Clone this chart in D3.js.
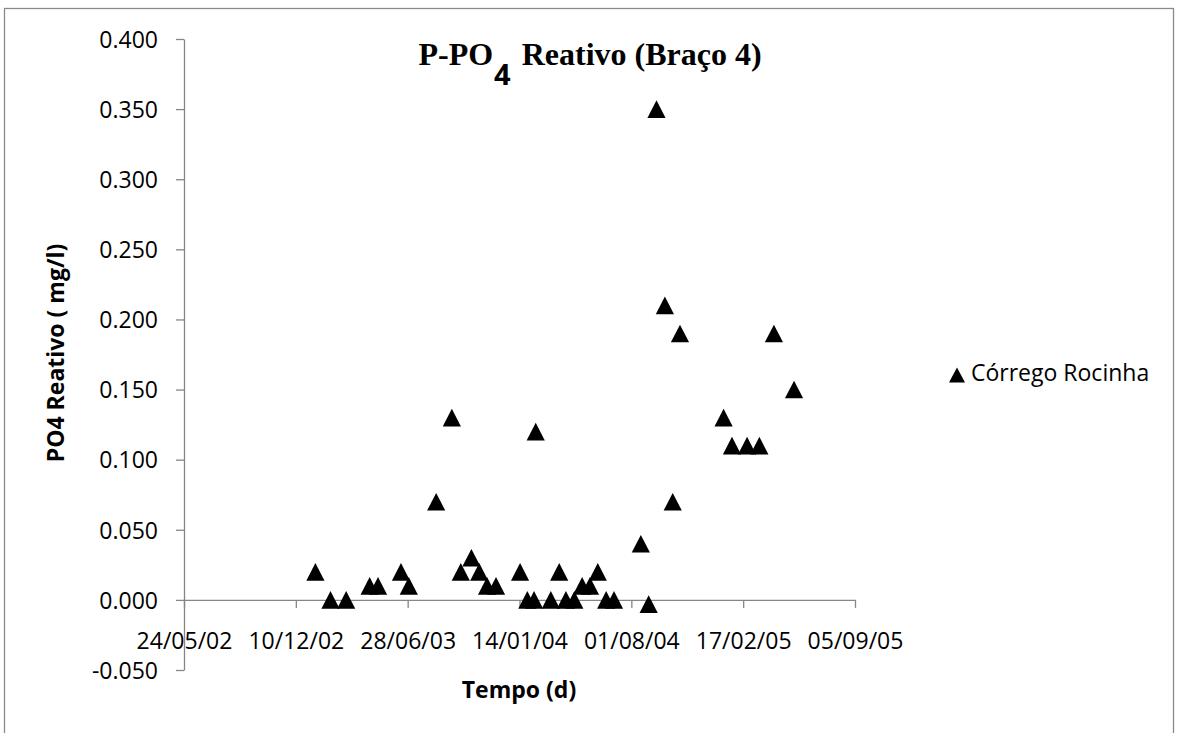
<!DOCTYPE html>
<html><head><meta charset="utf-8">
<script src="https://cdn.jsdelivr.net/npm/d3@7"></script>
<style>
body{margin:0;background:#fff;}
svg{display:block;font-family:"Open Sans",sans-serif;}
</style>
</head><body>
<svg id="c" width="1177" height="733"></svg>
<script>
const sampleDates = [
  "2003-01-14","2003-02-10","2003-03-10","2003-04-21","2003-05-06","2003-06-16","2003-06-30",
  "2003-08-18","2003-09-15","2003-10-01","2003-10-20","2003-11-03","2003-11-17","2003-12-03",
  "2004-01-15","2004-01-28","2004-02-09","2004-02-12","2004-03-10","2004-03-25","2004-04-06",
  "2004-04-21","2004-05-05","2004-05-19","2004-06-02","2004-06-17","2004-07-01","2004-08-18",
  "2004-09-01","2004-09-15","2004-09-30","2004-10-14","2004-10-27","2005-01-13","2005-01-28",
  "2005-02-24","2005-03-18","2005-04-13","2005-05-19"
];
const po4Values = [
  0.02,0,0,0.01,0.01,0.02,0.01,
  0.07,0.13,0.02,0.03,0.02,0.01,0.01,
  0.02,0,0,0.12,0,0.02,0,
  0,0.01,0.01,0.02,0,0,0.04,
  -0.003,0.35,0.21,0.07,0.19,0.13,0.11,
  0.11,0.11,0.19,0.15
];
const xTickDates = ["2002-05-24","2002-12-10","2003-06-28","2004-01-14","2004-08-01","2005-02-17","2005-09-05"];
const yTickValues = [-0.05,0,0.05,0.1,0.15,0.2,0.25,0.3,0.35,0.4];
const seriesName = "Córrego Rocinha";
const titleMain = "P-PO", titleSub = "4", titleRest = " Reativo (Braço 4)";
const yTitle = "PO4 Reativo ( mg/l)";
const xTitle = "Tempo (d)";

const parse = d3.utcParse("%Y-%m-%d");
const fmt = d3.utcFormat("%d/%m/%y");
const svg = d3.select("#c");
const axisColor = "#868686";

svg.append("rect").attr("x",4.5).attr("y",8.5).attr("width",1169).attr("height",740)
  .attr("fill","#fff").attr("stroke","#8a8a8a").attr("stroke-width",1.3);

const xTicks = xTickDates.map(parse);
const x = d3.scaleUtc().domain([xTicks[0], xTicks[xTicks.length-1]]).range([184, 855]);
const y = d3.scaleLinear().domain([-0.05, 0.4]).range([670, 39]);

// Y axis
const gY = svg.append("g").attr("transform","translate(184,0)")
  .call(d3.axisLeft(y).tickValues(yTickValues).tickSize(8).tickSizeOuter(0).tickPadding(18)
    .tickFormat(d => d.toFixed(3)));
gY.selectAll("path,line").attr("stroke",axisColor).attr("stroke-width",1.3);
gY.selectAll("text").attr("font-size",23).attr("fill","#000").attr("font-family","Open Sans").attr("dy","0.36em");

// X axis
const gX = svg.append("g").attr("transform",`translate(0,${y(0)})`)
  .call(d3.axisBottom(x).tickValues(xTicks).tickSize(8).tickSizeOuter(0).tickFormat(fmt));
gX.selectAll("path,line").attr("stroke",axisColor).attr("stroke-width",1.3);
gX.selectAll("text").attr("font-size",23).attr("fill","#000").attr("font-family","Open Sans")
  .attr("y",49).attr("dy",null);

// Points
const tri = "M0,-8.8L9.1,8.8L-9.1,8.8Z";
const data = sampleDates.map((d,i)=>({date:parse(d), v:po4Values[i]}));
svg.append("g").selectAll("path").data(data).join("path")
  .attr("d",tri).attr("fill","#000")
  .attr("transform",d=>`translate(${x(d.date)},${y(d.v)})`);

// Title
const t = svg.append("text").attr("x",590).attr("y",65).attr("text-anchor","middle")
  .attr("font-family","Liberation Serif, Times New Roman, serif").attr("font-weight","bold").attr("font-size",32);
t.append("tspan").text(titleMain);
t.append("tspan").attr("font-family","Open Sans").attr("font-size",29).attr("dx",1).attr("dy",20).text(titleSub);
t.append("tspan").attr("dx",3).attr("dy",-20).text(titleRest);

// Axis titles
svg.append("text").attr("transform","translate(64,353) rotate(-90)").attr("text-anchor","middle")
  .attr("font-weight","bold").attr("font-size",23).text(yTitle);
svg.append("text").attr("x",519).attr("y",698).attr("text-anchor","middle")
  .attr("font-weight","bold").attr("font-size",23).text(xTitle);

// Legend
svg.append("path").attr("d","M0,-7.5L8,7.5L-8,7.5Z").attr("fill","#000").attr("transform","translate(957,375)");
svg.append("text").attr("x",971).attr("y",381).attr("font-size",23).text(seriesName);
</script>
</body></html>
